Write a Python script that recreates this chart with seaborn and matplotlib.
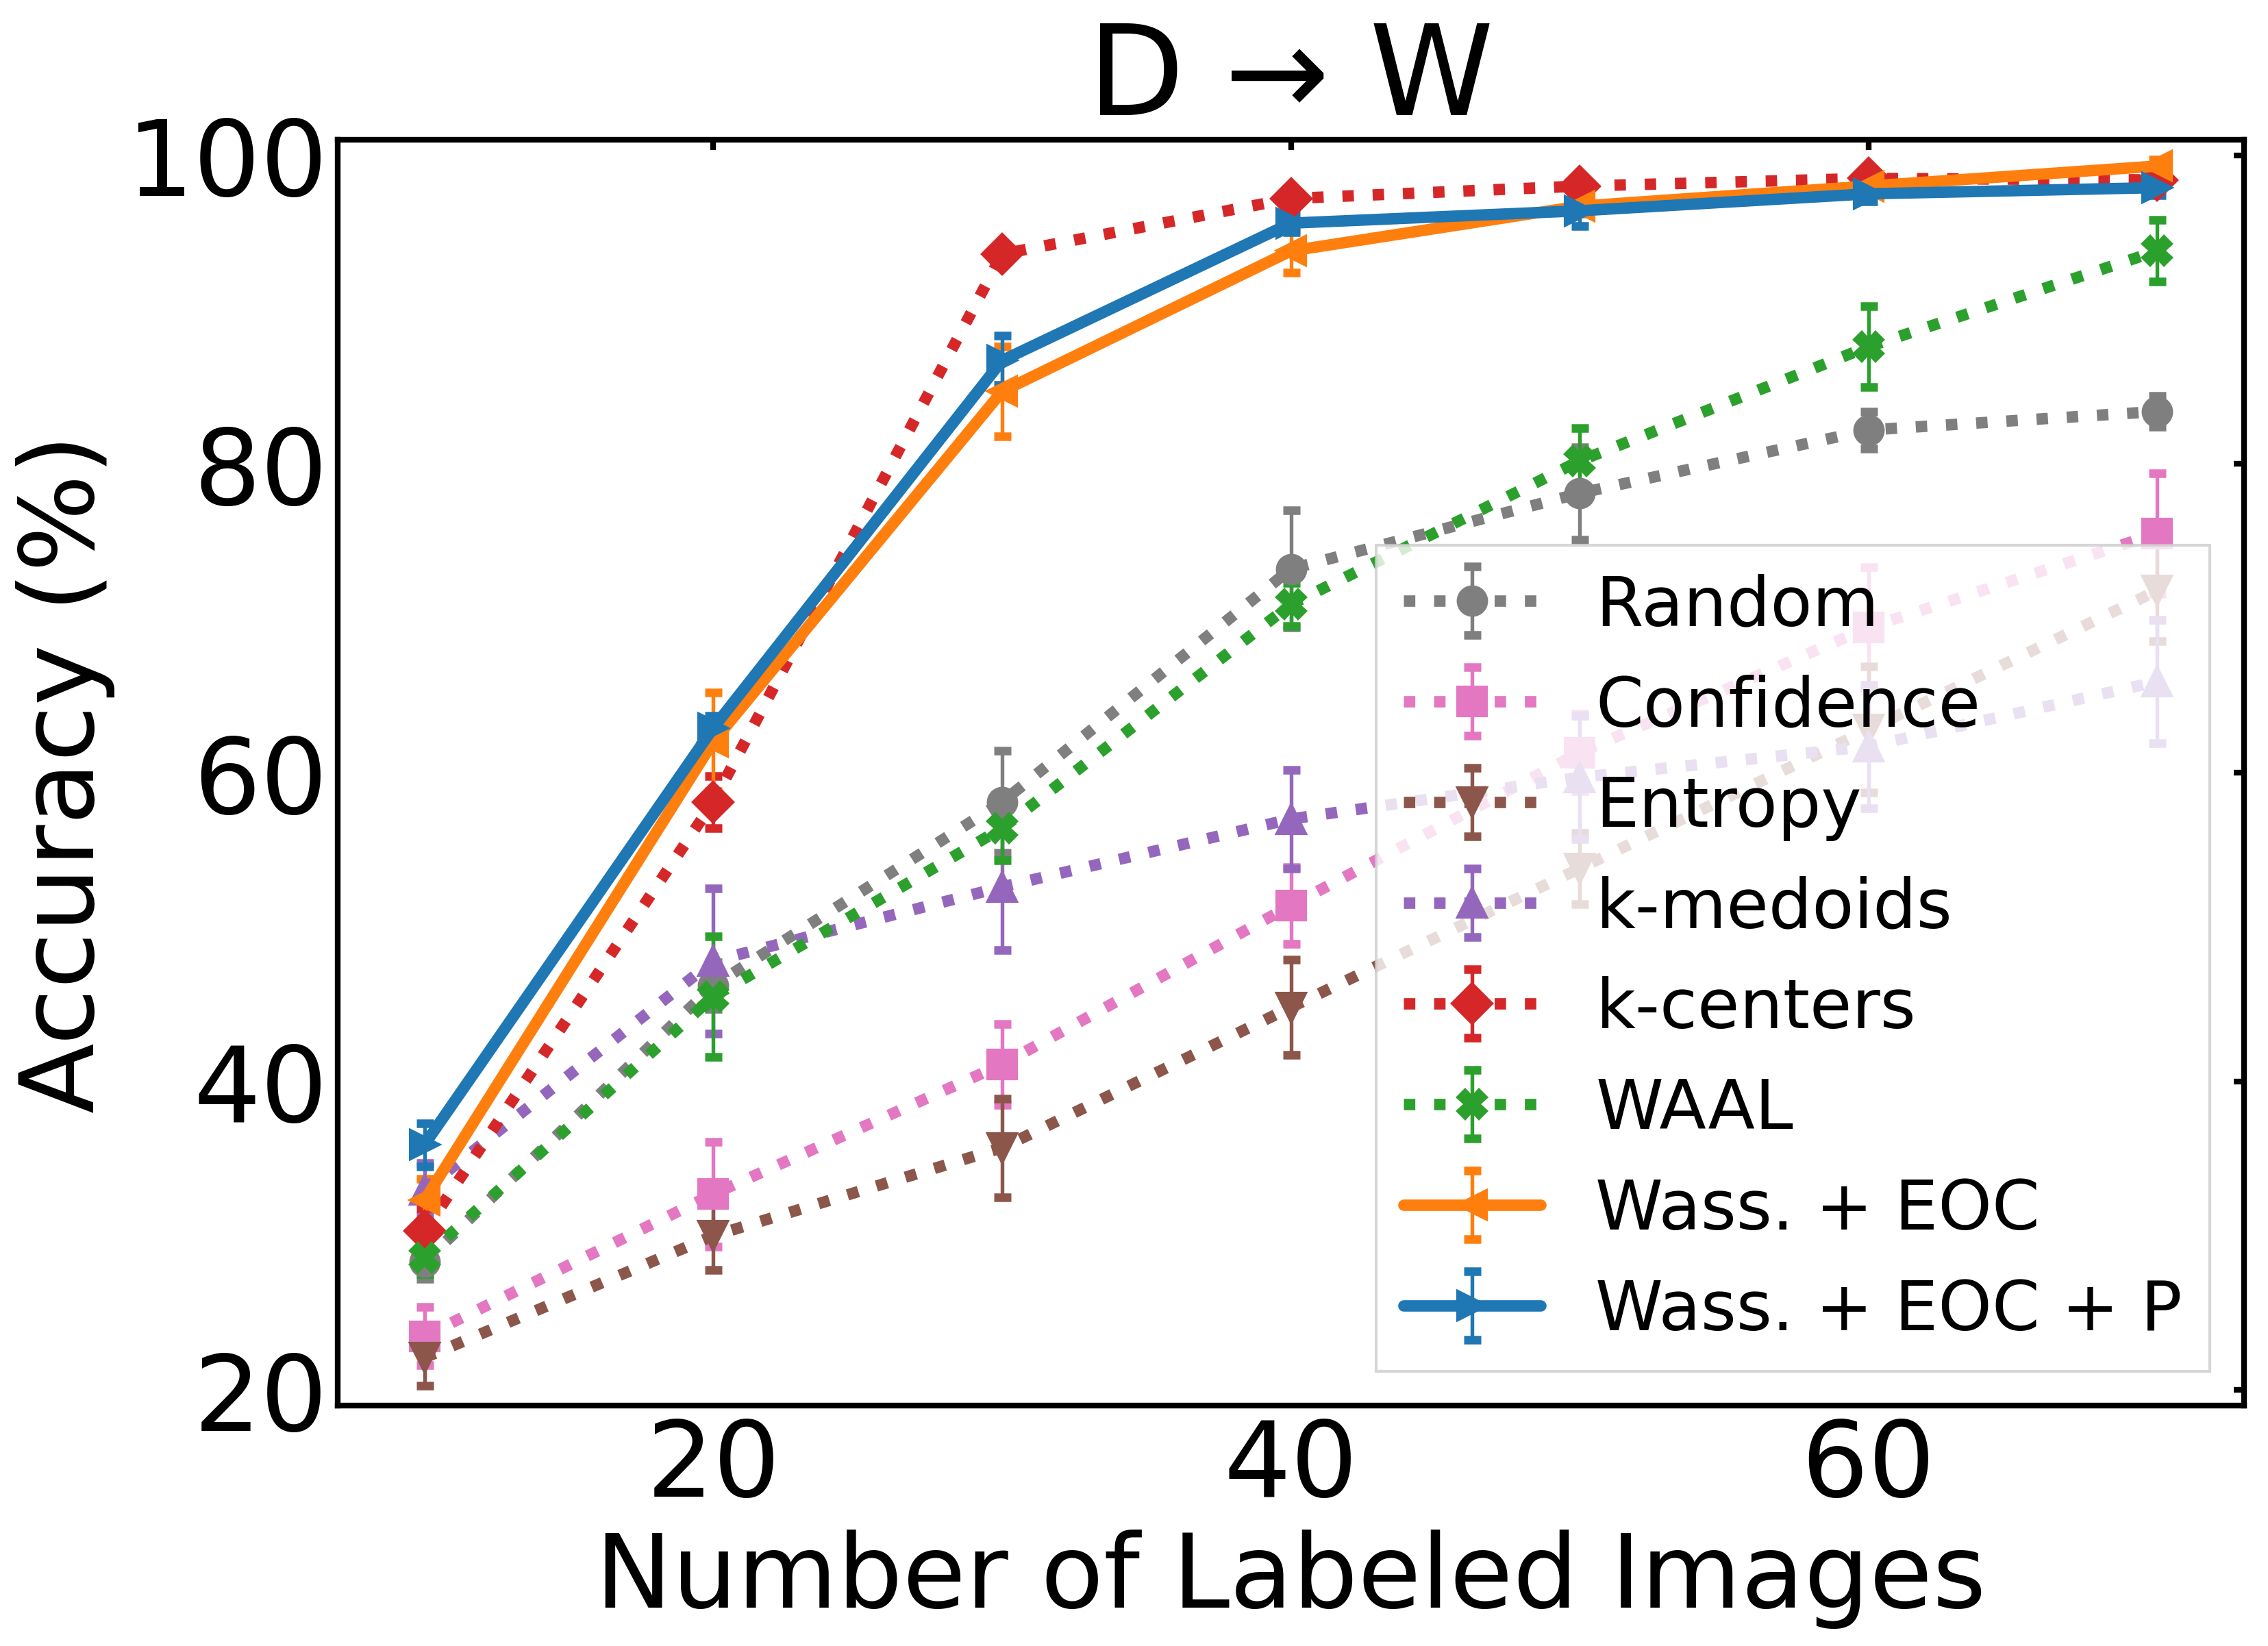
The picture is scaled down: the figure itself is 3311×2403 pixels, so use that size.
import matplotlib
matplotlib.use("Agg")
import matplotlib.pyplot as plt
import seaborn as sns
import numpy as np

# ---- data ----
labeled = [10, 20, 30, 40, 50, 60, 70]

methods = ["Random", "Confidence", "Entropy", "k-medoids", "k-centers", "WAAL",
           "Wass. + EOC", "Wass. + EOC + P"]

random_mean = [28.3, 46.2, 58.1, 73.2, 78.1, 82.2, 83.4]
random_err = [1.1, 1.5, 3.3, 3.8, 3.0, 1.2, 1.0]
confidence_mean = [23.5, 32.7, 41.1, 51.4, 61.3, 69.4, 75.5]
confidence_err = [1.9, 3.4, 2.6, 2.5, 2.5, 3.9, 3.9]
entropy_mean = [22.1, 30.0, 35.7, 44.8, 53.8, 62.8, 71.8]
entropy_err = [1.8, 2.2, 3.2, 3.1, 2.3, 4.1, 3.3]
kmedoids_mean = [33.0, 47.8, 52.6, 57.0, 59.7, 61.7, 65.9]
kmedoids_err = [1.7, 4.7, 4.1, 3.2, 4.0, 4.0, 4.0]
kcenters_mean = [30.3, 58.1, 93.6, 97.2, 98.0, 98.5, 98.4]
kcenters_err = [1.5, 1.7, 0.5, 0.5, 0.4, 0.6, 0.5]
waal_mean = [28.6, 45.5, 56.4, 70.9, 80.2, 87.6, 93.8]
waal_err = [1.1, 3.9, 2.1, 1.4, 2.1, 2.6, 2.0]
wass_eoc_mean = [32.3, 62.0, 84.7, 93.8, 96.7, 98.0, 99.3]
wass_eoc_err = [1.4, 3.2, 2.9, 1.4, 0.5, 0.5, 0.4]
wass_eoc_p_mean = [35.9, 62.9, 86.7, 95.6, 96.4, 97.5, 97.9]
wass_eoc_p_err = [1.4, 0.8, 1.6, 0.6, 1.0, 0.5, 0.5]

means = [random_mean, confidence_mean, entropy_mean, kmedoids_mean,
         kcenters_mean, waal_mean, wass_eoc_mean, wass_eoc_p_mean]
errs = [random_err, confidence_err, entropy_err, kmedoids_err,
        kcenters_err, waal_err, wass_eoc_err, wass_eoc_p_err]

# ---- style ----
sns.set_style("white")
plt.rcParams["font.family"] = ["DejaVu Sans"]
plt.rcParams["text.color"] = "black"
plt.rcParams["axes.labelcolor"] = "black"
plt.rcParams["xtick.color"] = "black"
plt.rcParams["ytick.color"] = "black"

tab = sns.color_palette("tab10")
colors = [tab[7], tab[6], tab[5], tab[4], tab[3], tab[2], tab[1], tab[0]]
markers = ["o", "s", "v", "^", "D", "X", "<", ">"]
styles = [":", ":", ":", ":", ":", ":", "-", "-"]

fig = plt.figure(figsize=(11.04, 8.0133), dpi=300)
ax = fig.add_axes([0.1489, 0.146, 0.9891 - 0.1489, 0.9147 - 0.146])

for name, m, e, c, mk, ls in zip(methods, means, errs, colors, markers, styles):
    ax.errorbar(labeled, m, yerr=e, label=name, color=c, marker=mk,
                linestyle=ls, linewidth=4, markersize=10,
                elinewidth=1.3, capsize=3, capthick=3)

ax.set_xlim(7, 73)
ax.set_ylim(19, 101)
ax.set_xticks([20, 40, 60])
ax.set_yticks([20, 40, 60, 80, 100])

ax.tick_params(axis="both", which="major", direction="in", top=True, right=True,
               length=3.7, width=2, labelsize=37, color="black", labelcolor="black")
for sp in ax.spines.values():
    sp.set_linewidth(2)
    sp.set_color("black")

ax.set_xlabel("Number of Labeled Images", fontsize=36, color="black")
ax.set_ylabel("Accuracy (%)", fontsize=36, color="black")
ax.set_title("D → W", fontsize=44, pad=9, color="black")

leg = ax.legend(loc="lower right", fontsize=24, labelspacing=0.5,
                fancybox=False, framealpha=0.8, edgecolor="0.8")
for t in leg.get_texts():
    t.set_color("black")

fig.savefig("out.png", dpi=300)
